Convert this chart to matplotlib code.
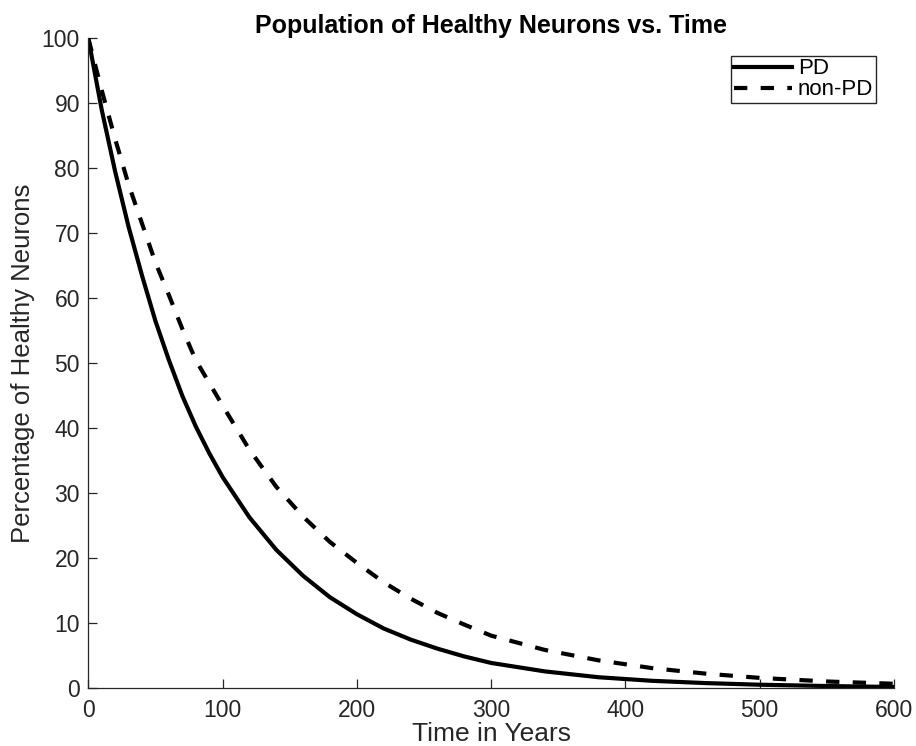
import matplotlib
matplotlib.use("Agg")
import matplotlib.pyplot as plt

plt.rcParams['font.family'] = ['Liberation Sans', 'DejaVu Sans']

# values
years = [0, 10, 20, 30, 40, 50, 60, 70, 80, 90, 100, 120, 140, 160, 180, 200,
         220, 240, 260, 280, 300, 340, 380, 420, 460, 500, 550, 600]
pd_pct = [100, 89, 79.5, 71, 63.5, 56.5, 50.5, 45, 40.3, 36.2, 32.5, 26.3, 21.3,
          17.3, 14.0, 11.4, 9.2, 7.5, 6.1, 4.9, 3.9, 2.6, 1.7, 1.15, 0.8, 0.55,
          0.35, 0.2]
nonpd_pct = [100, 92, 84.5, 77.5, 71.5, 65.5, 60.5, 55.3, 50.5, 47, 43.5, 36.7,
             31, 26.4, 22.5, 19.3, 16.3, 13.8, 11.6, 9.8, 8.1, 5.9, 4.3, 3.1,
             2.25, 1.6, 1.05, 0.7]
labels = ['PD', 'non-PD']
xticks = [0, 100, 200, 300, 400, 500, 600]
yticks = [0, 10, 20, 30, 40, 50, 60, 70, 80, 90, 100]

W, H = 916, 746
fig = plt.figure(figsize=(W / 100, H / 100), dpi=100)
ax = fig.add_axes([88.3 / W, 1 - 688.3 / H, (894 - 88.3) / W, (688.3 - 38.3) / H])

grey = '#262626'
ax.plot(years, pd_pct, color='black', lw=3, label=labels[0])
ax.plot(years, nonpd_pct, color='black', lw=3, dashes=(3.2, 3.2), label=labels[1])

ax.set_xlim(0, 600)
ax.set_ylim(0, 100)
ax.set_xticks(xticks)
ax.set_yticks(yticks)
ax.spines['top'].set_visible(False)
ax.spines['right'].set_visible(False)
for s in ('left', 'bottom'):
    ax.spines[s].set_color(grey)
    ax.spines[s].set_linewidth(0.9)
ax.tick_params(direction='in', length=6.5, width=0.9, color=grey,
               labelcolor=grey, labelsize=16.5)
ax.tick_params(axis='x', pad=8)
ax.tick_params(axis='y', pad=6)

ax.set_title('Population of Healthy Neurons vs. Time', fontsize=18,
             fontweight='bold', pad=3)
ax.set_xlabel('Time in Years', fontsize=19, color=grey, labelpad=0)
ax.set_ylabel('Percentage of Healthy Neurons', fontsize=18.5, color=grey,
              labelpad=5)

leg = ax.legend(loc='upper right', bbox_to_anchor=(876 / W, 1 - 55.7 / H),
                bbox_transform=fig.transFigure, borderaxespad=0,
                fontsize=16, handlelength=2.65, handletextpad=0.25,
                labelspacing=0.0, borderpad=0.12, fancybox=False,
                framealpha=1)
leg.get_frame().set_edgecolor(grey)
leg.get_frame().set_linewidth(1.0)

fig.savefig('out.png', dpi=100)
